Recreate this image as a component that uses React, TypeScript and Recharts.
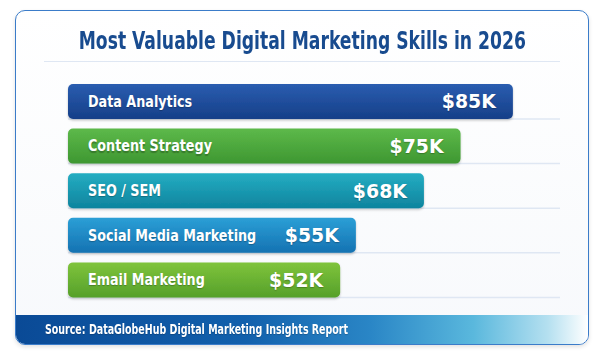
import { BarChart, Bar, XAxis, YAxis, Cell, LabelList } from 'recharts'

const skills = ['Data Analytics', 'Content Strategy', 'SEO / SEM', 'Social Media Marketing', 'Email Marketing']
const salaries = [85, 75, 68, 55, 52]
const valueLabels = ['$85K', '$75K', '$68K', '$55K', '$52K']
const barColours = [
  ['#2a5db0', '#163f88'],
  ['#5db94a', '#3e9731'],
  ['#25adc2', '#0e849e'],
  ['#2b9fd6', '#1572b2'],
  ['#7fc43c', '#56a02a'],
]

const rows = skills.map((name, i) => ({ name, value: salaries[i], label: valueLabels[i] }))

const font = '"DejaVu Sans Condensed", "DejaVu Sans", sans-serif'

function Separator(props: any) {
  const { x, y, width, height } = props
  return <line x1={x} x2={x + width} y1={y + height} y2={y + height} stroke="#dfe7f3" strokeWidth={1.5} />
}

// narrow label drawn inside the bar, squeezed horizontally to mimic a condensed face
function NameLabel(props: any) {
  const { x, y, height, value } = props
  const tx = x + 20
  const ty = y + height / 2
  return (
    <text
      transform={`translate(${tx},${ty}) scale(0.86,1)`}
      dominantBaseline="central"
      fill="#fff"
      fontSize={16.5}
      fontWeight={700}
      fontFamily={font}
      style={{ textShadow: '0 1px 1px rgba(0,0,0,0.25)' }}
    >
      {value}
    </text>
  )
}

function ValueLabel(props: any) {
  const { x, y, width, height, value } = props
  const tx = x + width - 17
  const ty = y + height / 2
  return (
    <text
      transform={`translate(${tx},${ty}) scale(1.05,1)`}
      dominantBaseline="central"
      textAnchor="end"
      fill="#fff"
      fontSize={20}
      fontWeight={700}
      fontFamily={font}
      style={{ textShadow: '0 1px 1px rgba(0,0,0,0.25)' }}
    >
      {value}
    </text>
  )
}

export default function App() {
  return (
    <div style={{ position: 'absolute', left: 0, top: 0, width: 602, height: 354, background: '#fff', fontFamily: font }}>
      <div
        style={{
          position: 'absolute',
          left: 15,
          top: 10,
          width: 572,
          height: 333,
          border: '1.5px solid #3b7cc9',
          borderRadius: 10,
          background: 'linear-gradient(#ffffff, #f7f9fc)',
          boxShadow: '0 2px 4px rgba(0,0,0,0.12)',
          overflow: 'hidden',
        }}
      >
        <div
          style={{
            position: 'absolute',
            left: 0,
            width: '100%',
            top: 15,
            display: 'flex',
            justifyContent: 'center',
          }}
        >
          <div
            style={{
              fontSize: 25,
              fontWeight: 700,
              color: '#184b8f',
              whiteSpace: 'nowrap',
              transform: 'scaleX(0.765)',
              transformOrigin: 'center',
            }}
          >
            Most Valuable Digital Marketing Skills in 2026
          </div>
        </div>
        <div style={{ position: 'absolute', left: 27.5, top: 49.5, width: 516, height: 1.5, background: '#dfe7f3' }} />
        <div
          style={{
            position: 'absolute',
            left: 0,
            bottom: 0,
            width: '100%',
            height: 29,
            background:
              'linear-gradient(90deg, #0a4a96 0%, #1260ac 40%, #2a86c6 62%, #5ab8dd 80%, #b5e0f0 93%, #ffffff 100%)',
          }}
        >
          <div
            style={{
              position: 'absolute',
              left: 28.5,
              top: 6,
              fontSize: 13.5,
              fontWeight: 700,
              color: '#fff',
              whiteSpace: 'nowrap',
              transform: 'scaleX(0.78)',
              transformOrigin: 'left',
              textShadow: '0 1px 1px rgba(0,0,0,0.2)',
            }}
          >
            Source: DataGlobeHub Digital Marketing Insights Report
          </div>
        </div>
      </div>
      <div style={{ position: 'absolute', left: 0, top: 79 }}>
        <BarChart
          width={560}
          height={223}
          layout="vertical"
          data={rows}
          margin={{ top: 0, right: 0, bottom: 0, left: 68 }}
          barSize={35}
        >
          <defs>
            {barColours.map((c, i) => (
              <linearGradient key={i} id={`bar${i}`} x1="0" y1="0" x2="0" y2="1">
                <stop offset="0%" stopColor={c[0]} />
                <stop offset="100%" stopColor={c[1]} />
              </linearGradient>
            ))}
            <filter id="shadow" x="-5%" y="-20%" width="110%" height="150%">
              <feDropShadow dx="0" dy="1.5" stdDeviation="1.2" floodColor="#000" floodOpacity="0.22" />
            </filter>
          </defs>
          <XAxis type="number" domain={[0, 94]} hide />
          <YAxis type="category" dataKey="name" hide width={0} />
          <Bar
            dataKey="value"
            radius={5}
            isAnimationActive={false}
            background={<Separator />}
            style={{ filter: 'url(#shadow)' }}
          >
            {rows.map((r, i) => (
              <Cell key={r.name} fill={`url(#bar${i})`} />
            ))}
            <LabelList dataKey="name" content={<NameLabel />} />
            <LabelList dataKey="label" content={<ValueLabel />} />
          </Bar>
        </BarChart>
      </div>
    </div>
  )
}
